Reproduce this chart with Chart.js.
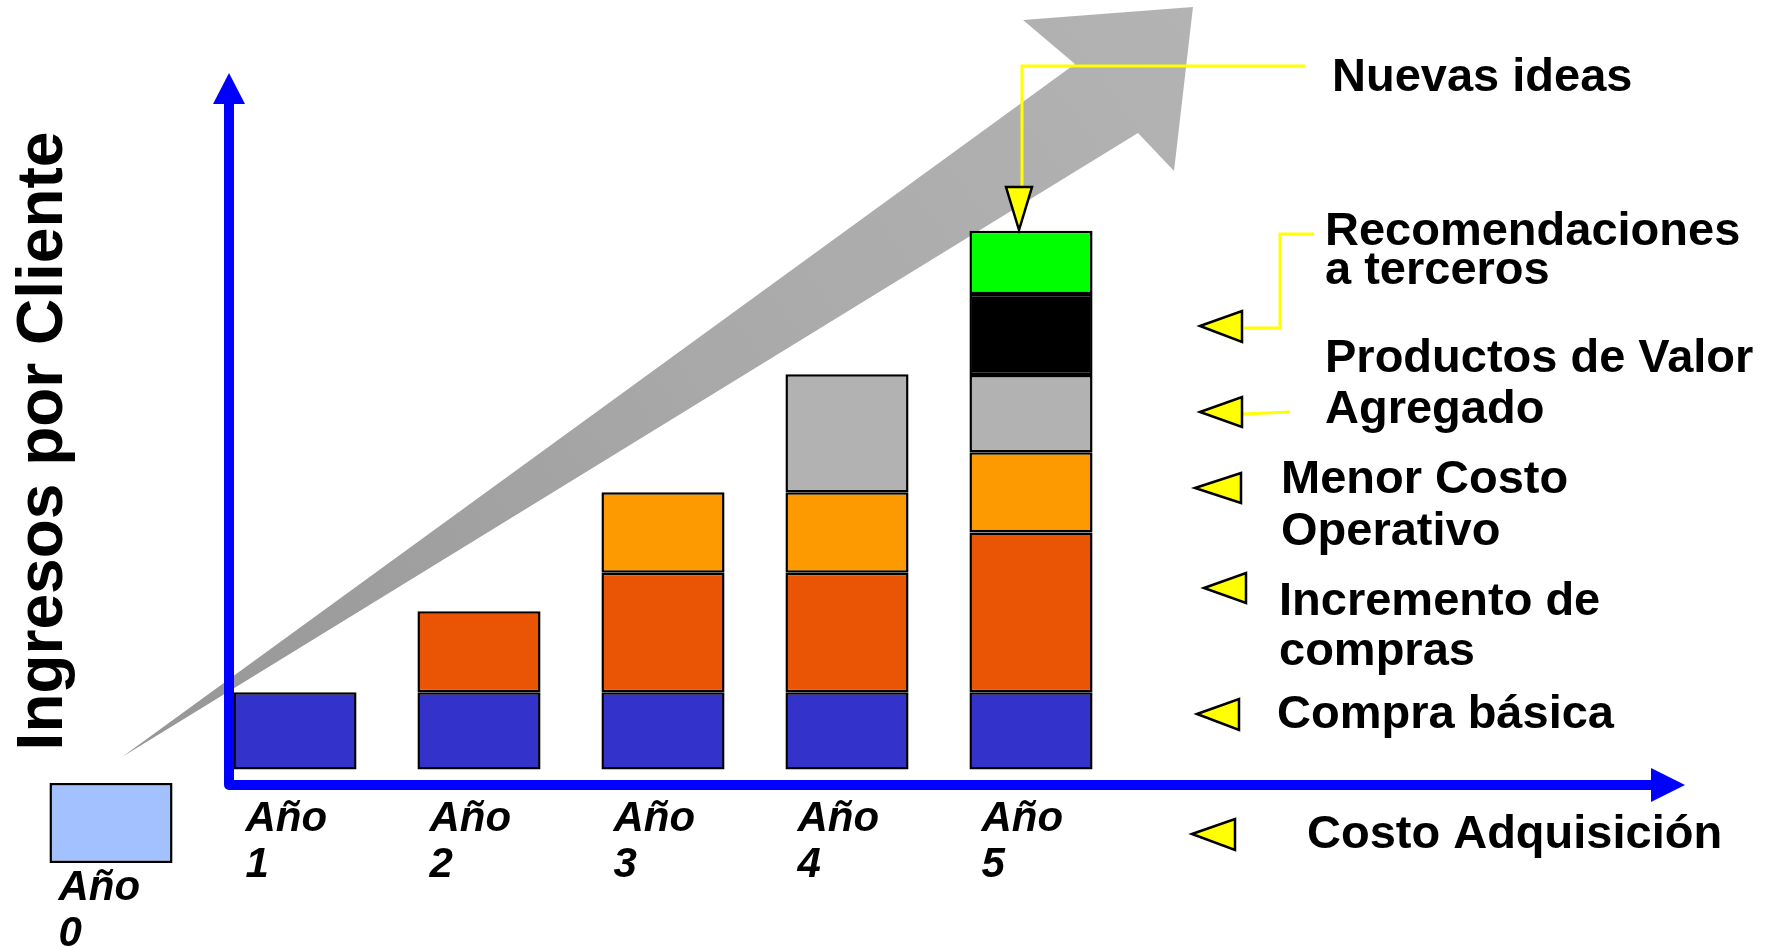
<!DOCTYPE html>
<html lang="es">
<head>
<meta charset="utf-8">
<title>Ingresos por Cliente</title>
<script src="https://cdn.jsdelivr.net/npm/chart.js@4.4.1/dist/chart.umd.min.js"></script>
<style>
  html, body { margin: 0; padding: 0; background: #ffffff; }
  #wrap { position: relative; width: 1785px; height: 948px; }
</style>
</head>
<body>
<div id="wrap"><canvas id="cltvChart" role="img" aria-label="Ingresos por cliente por año"></canvas></div>
<script>
'use strict';

const YEARS = ['Año 0', 'Año 1', 'Año 2', 'Año 3', 'Año 4', 'Año 5'];
const YEAR_NUMBERS = ['0', '1', '2', '3', '4', '5'];

// Costo de adquisición: barra flotante bajo el eje (año 0)
const ACQUISITION    = [[-1.21, -0.175], null, null, null, null, null];
const BASIC_PURCHASE = [null, 1.00, 1.00, 1.00, 1.00, 1.00];
const MORE_PURCHASES = [null, null, 1.05, 1.55, 1.55, 2.07];
const LOWER_COST     = [null, null, null, 1.04, 1.04, 1.04];
const VALUE_ADDED    = [null, null, null, null, 1.53, 1.00];
const REFERRALS      = [null, null, null, null, null, 1.05];
const NEW_IDEAS      = [null, null, null, null, null, 0.82];

const Y_TITLE = 'Ingresos por Cliente';
const NOTE_NEW_IDEAS = ['Nuevas ideas'];
const NOTE_REFERRALS = ['Recomendaciones', 'a terceros'];
const NOTE_VALUE     = ['Productos de Valor', 'Agregado'];
const NOTE_COST      = ['Menor Costo', 'Operativo'];
const NOTE_PURCHASES = ['Incremento de', 'compras'];
const NOTE_BASIC     = ['Compra básica'];
const NOTE_ACQ       = ['Costo Adquisición'];

const BAR_PCT = 0.669;
const TEXT_FONT = 'bold 47px "Liberation Sans", Arial, sans-serif';
const YEAR_FONT = 'italic bold 42px "Liberation Sans", Arial, sans-serif';

function yellowTriangle(ctx, pts) {
  ctx.beginPath();
  ctx.moveTo(pts[0][0], pts[0][1]);
  ctx.lineTo(pts[1][0], pts[1][1]);
  ctx.lineTo(pts[2][0], pts[2][1]);
  ctx.closePath();
  ctx.fillStyle = '#ffff00';
  ctx.fill();
  ctx.lineWidth = 2.5;
  ctx.strokeStyle = '#000000';
  ctx.stroke();
}

function leftTriangle(ctx, tipX, tipY, baseX, top, bottom) {
  yellowTriangle(ctx, [[tipX, tipY], [baseX, top], [baseX, bottom]]);
}

function yellowLine(ctx, pts) {
  ctx.beginPath();
  ctx.moveTo(pts[0][0], pts[0][1]);
  pts.slice(1).forEach(p => ctx.lineTo(p[0], p[1]));
  ctx.lineWidth = 3;
  ctx.strokeStyle = '#ffff00';
  ctx.lineJoin = 'miter';
  ctx.stroke();
}

function textLines(ctx, lines, x, y, gap) {
  ctx.font = TEXT_FONT;
  ctx.fillStyle = '#000000';
  ctx.textAlign = 'left';
  ctx.textBaseline = 'alphabetic';
  lines.forEach((t, i) => ctx.fillText(t, x, y + i * gap));
}

const growthArrow = {
  id: 'growthArrow',
  beforeDatasetsDraw(chart) {
    const ctx = chart.ctx;
    ctx.save();
    const g = ctx.createLinearGradient(122, 757, 1190, 10);
    g.addColorStop(0, '#969696');
    g.addColorStop(0.55, '#a9a9a9');
    g.addColorStop(1, '#b3b3b3');
    ctx.beginPath();
    ctx.moveTo(122, 757);
    ctx.lineTo(1075, 64);
    ctx.lineTo(1023, 20);
    ctx.lineTo(1193, 7);
    ctx.lineTo(1174, 171);
    ctx.lineTo(1138, 133);
    ctx.closePath();
    ctx.fillStyle = g;
    ctx.fill();
    ctx.restore();
  },
};

const decorations = {
  id: 'decorations',
  afterDatasetsDraw(chart) {
    const ctx = chart.ctx;
    const x = chart.scales.x;
    const slot = x.getPixelForValue(1) - x.getPixelForValue(0);
    const half = slot * BAR_PCT / 2;
    ctx.save();

    // ejes azules
    ctx.strokeStyle = '#0000ff';
    ctx.fillStyle = '#0000ff';
    ctx.lineWidth = 10;
    ctx.lineJoin = 'round';
    ctx.beginPath();
    ctx.moveTo(229, 100);
    ctx.lineTo(229, 785);
    ctx.lineTo(1655, 785);
    ctx.stroke();
    ctx.beginPath();
    ctx.moveTo(229, 73);
    ctx.lineTo(213, 104);
    ctx.lineTo(245, 104);
    ctx.closePath();
    ctx.fill();
    ctx.beginPath();
    ctx.moveTo(1685, 785);
    ctx.lineTo(1651, 768);
    ctx.lineTo(1651, 802);
    ctx.closePath();
    ctx.fill();

    // etiquetas de año
    ctx.font = YEAR_FONT;
    ctx.fillStyle = '#000000';
    ctx.textAlign = 'left';
    ctx.textBaseline = 'alphabetic';
    YEARS.forEach((lbl, i) => {
      const left = x.getPixelForValue(i) - half + (i === 0 ? 9 : 12);
      const base = i === 0 ? 900 : 831;
      ctx.fillText(lbl.split(' ')[0], left, base);
      ctx.fillText(YEAR_NUMBERS[i], left, base + 46);
    });

    // título vertical
    ctx.save();
    ctx.translate(62, 441);
    ctx.rotate(-Math.PI / 2);
    ctx.font = 'bold 64px "Liberation Sans", Arial, sans-serif';
    ctx.textAlign = 'center';
    ctx.fillText(Y_TITLE, 0, 0);
    ctx.restore();

    // guías amarillas
    yellowLine(ctx, [[1305, 66], [1022, 66], [1022, 190]]);
    yellowTriangle(ctx, [[1006, 187], [1032, 187], [1019, 230]]);
    yellowLine(ctx, [[1244, 328], [1280, 328], [1280, 234], [1314, 234]]);
    yellowLine(ctx, [[1242, 414], [1290, 412]]);

    leftTriangle(ctx, 1200, 326, 1242, 311, 342);
    leftTriangle(ctx, 1200, 412, 1242, 397, 427);
    leftTriangle(ctx, 1195, 488, 1241, 473, 503);
    leftTriangle(ctx, 1204, 588, 1246, 573, 603);
    leftTriangle(ctx, 1197, 714, 1239, 699, 730);
    leftTriangle(ctx, 1192, 834, 1235, 819, 850);

    textLines(ctx, NOTE_NEW_IDEAS, 1332, 91, 0);
    textLines(ctx, NOTE_REFERRALS, 1325, 245, 39);
    textLines(ctx, NOTE_VALUE, 1325, 372, 51);
    textLines(ctx, NOTE_COST, 1281, 493, 52);
    textLines(ctx, NOTE_PURCHASES, 1279, 615, 50);
    textLines(ctx, NOTE_BASIC, 1277, 728, 0);
    textLines(ctx, NOTE_ACQ, 1307, 848, 0);

    ctx.restore();
  },
};

function series(data, color) {
  return {
    data,
    backgroundColor: color,
    borderColor: '#000000',
    borderWidth: 2.5,
    borderSkipped: false,
    categoryPercentage: 1,
    barPercentage: BAR_PCT,
  };
}

new Chart(document.getElementById('cltvChart'), {
  type: 'bar',
  data: {
    labels: YEARS,
    datasets: [
      series(ACQUISITION, '#a3c1ff'),
      series(BASIC_PURCHASE, '#3333cc'),
      series(MORE_PURCHASES, '#ea5505'),
      series(LOWER_COST, '#fe9a01'),
      series(VALUE_ADDED, '#b2b2b2'),
      series(REFERRALS, '#000000'),
      series(NEW_IDEAS, '#00ff00'),
    ],
  },
  options: {
    responsive: true,
    maintainAspectRatio: false,
    animation: false,
    layout: { padding: { left: 19, right: 662, top: 190.5, bottom: 24.1 } },
    plugins: {
      legend: { display: false },
      tooltip: { enabled: false },
    },
    scales: {
      x: { stacked: true, display: false },
      y: { stacked: true, display: false, min: -2, max: 7.5 },
    },
  },
  plugins: [growthArrow, decorations],
});
</script>
</body>
</html>
